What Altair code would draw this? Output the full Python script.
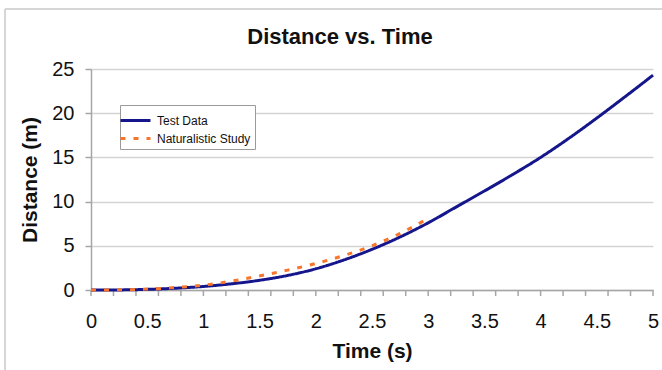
import altair as alt
import pandas as pd

chart_title = "Distance vs. Time"
x_title = "Time (s)"
y_title = "Distance (m)"
series_names = ["Test Data", "Naturalistic Study"]
series_colors = ["#16168c", "#f7762c"]

test_time = [0, 0.25, 0.5, 0.75, 1.0, 1.25, 1.5, 1.75, 2.0, 2.25, 2.5, 2.75, 3.0,
             3.25, 3.5, 3.75, 4.0, 4.25, 4.5, 4.75, 5.0]
test_dist = [0, 0.01, 0.07, 0.2, 0.4, 0.7, 1.1, 1.65, 2.4, 3.4, 4.6, 6.0, 7.6,
             9.4, 11.2, 13.05, 15.0, 17.15, 19.45, 21.85, 24.3]

nat_time = [0, 0.25, 0.5, 0.75, 1.0, 1.25, 1.5, 1.75, 2.0, 2.25, 2.5, 2.75, 3.0]
nat_dist = [0, 0.02, 0.1, 0.28, 0.55, 1.0, 1.6, 2.25, 3.0, 3.9, 5.0, 6.4, 8.1]

x_label_values = [0, 0.5, 1, 1.5, 2, 2.5, 3, 3.5, 4, 4.5, 5]
x_tick_values = [0, 0.2, 0.4, 0.6, 0.8, 1.0, 1.2, 1.4, 1.6, 1.8, 2.0, 2.2, 2.4,
                 2.6, 2.8, 3.0, 3.2, 3.4, 3.6, 3.8, 4.0, 4.2, 4.4, 4.6, 4.8, 5.0]
y_values = [0, 5, 10, 15, 20, 25]

FONT = "Liberation Sans"
W, H = 562, 221

rows = []
for t, d in zip(test_time, test_dist):
    rows.append({"t": t, "d": d, "series": series_names[0]})
for t, d in zip(nat_time, nat_dist):
    rows.append({"t": t, "d": d, "series": series_names[1]})
df = pd.DataFrame(rows)

x_scale = alt.Scale(domain=[0, 5], nice=False, zero=False)
y_scale = alt.Scale(domain=[0, 25], nice=False)

x_axis = alt.Axis(values=x_label_values, ticks=False, grid=False, format="~g",
                  domainColor="#a6a6a6", domainWidth=1.5,
                  labelFont=FONT, labelFontSize=20, labelColor="#111",
                  labelPadding=21, labelFlush=False,
                  titleFont=FONT, titleFontSize=21, titleFontWeight="bold",
                  titleColor="#111", titlePadding=9)
y_axis = alt.Axis(values=y_values, grid=True, gridColor="#d4d4d4", gridWidth=1.5,
                  domainColor="#a6a6a6", domainWidth=1.5,
                  tickColor="#a6a6a6", tickSize=6, tickWidth=1.5,
                  labelFont=FONT, labelFontSize=20, labelColor="#111",
                  labelPadding=11,
                  titleFont=FONT, titleFontSize=21, titleFontWeight="bold",
                  titleColor="#111", titlePadding=11)

x_enc = alt.X("t:Q", scale=x_scale, axis=x_axis, title=x_title)

legend = alt.Legend(orient="none", legendX=29, legendY=36,
                    strokeColor="#9a9a9a", fillColor="white", padding=4,
                    symbolType="M-1.5,0H1.5", symbolSize=400, symbolStrokeWidth=3,
                    labelFont=FONT, labelFontSize=12, labelColor="#111",
                    labelOffset=10, rowPadding=0)

lines = alt.Chart(df).mark_line(strokeWidth=3, interpolate="monotone").encode(
    x=x_enc,
    y=alt.Y("d:Q", scale=y_scale, axis=y_axis, title=y_title),
    color=alt.Color("series:N", title=None,
                    scale=alt.Scale(domain=series_names, range=series_colors),
                    legend=legend),
    strokeDash=alt.StrokeDash("series:N", title=None,
                              scale=alt.Scale(domain=series_names,
                                              range=[[1, 0], [5, 8]]),
                              legend=legend),
)

ticks = alt.Chart(pd.DataFrame({"t": x_tick_values})).mark_rule(
    color="#a6a6a6", strokeWidth=1.5
).encode(x=x_enc, y=alt.value(H), y2=alt.value(H + 6))

frame_df = pd.DataFrame({"a": [0]})
frame_v = alt.Chart(frame_df).mark_rule(color="#d6d6d6", strokeWidth=2).encode(
    x=alt.value(-86), y=alt.value(-60), y2=alt.value(H + 90))
frame_h = alt.Chart(frame_df).mark_rule(color="#d6d6d6", strokeWidth=2).encode(
    x=alt.value(-86), x2=alt.value(W + 20), y=alt.value(-60))

title_df = pd.DataFrame({"label": [chart_title]})
title = alt.Chart(title_df).mark_text(
    font=FONT, fontSize=22, fontWeight="bold", color="#111",
    align="center", baseline="middle"
).encode(text="label:N", x=alt.value(249), y=alt.value(-32))

chart = alt.layer(frame_v, frame_h, ticks, lines, title).properties(
    width=W, height=H,
    autosize=alt.AutoSizeParams(type="none"),
    padding={"left": 91, "top": 69, "right": 9, "bottom": 80},
    background="white",
).configure_view(strokeWidth=0)

chart.save("out.html", embed_options={"renderer": "svg", "actions": False})
